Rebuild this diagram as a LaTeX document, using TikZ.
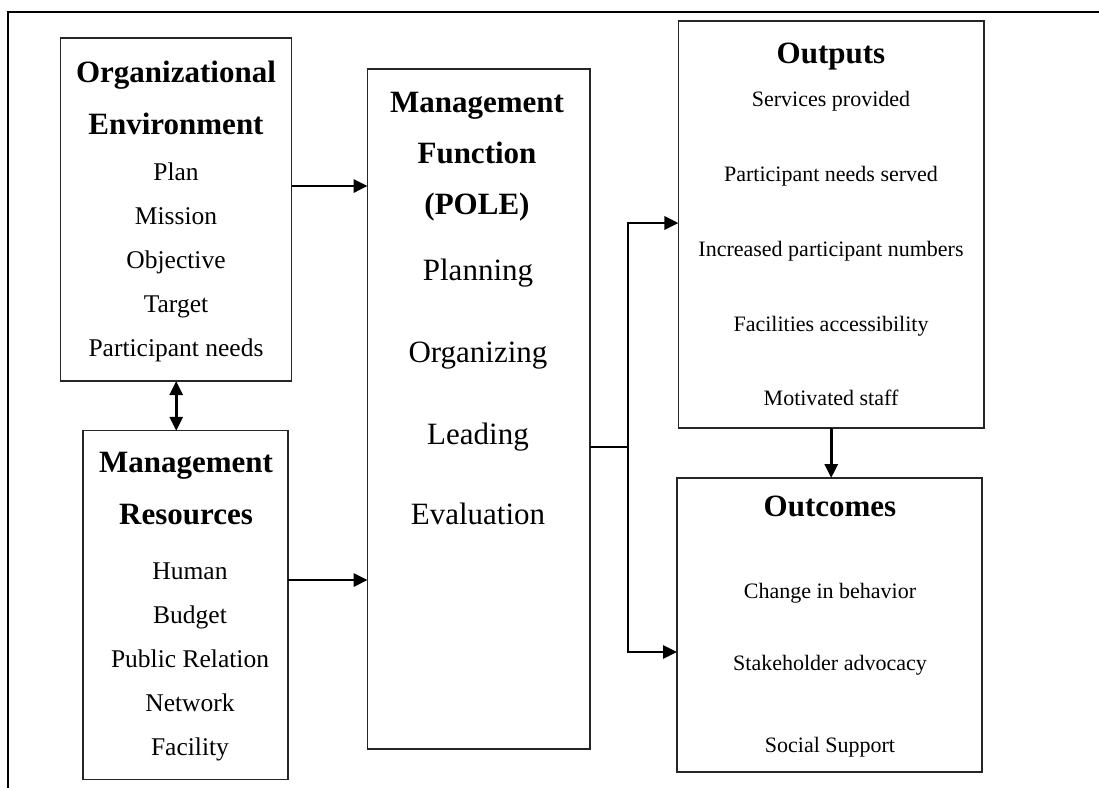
\documentclass[tikz,border=0pt]{standalone}
\usepackage{fontspec}
\setmainfont{Liberation Serif}
\usetikzlibrary{arrows.meta}
\begin{document}
\begin{tikzpicture}[x=1pt,y=-1pt,
 box/.style={draw=black!85,line width=1.3pt,inner sep=0pt,outer sep=0pt},
 ttl/.style={font=\fontsize{31}{31}\selectfont\bfseries,anchor=base,inner sep=0pt},
 itemL/.style={font=\fontsize{25.5}{25.5}\selectfont,anchor=base,inner sep=0pt},
 itemM/.style={font=\fontsize{31}{31}\selectfont,anchor=base,inner sep=0pt},
 itemR/.style={font=\fontsize{22}{22}\selectfont,anchor=base,inner sep=0pt},
 conn/.style={line width=2.8pt,black},
 tip/.tip={Triangle[length=14pt,width=13pt]},
 arr/.style={conn,-tip},
]
\useasboundingbox (0,0) rectangle (1099,788);
\draw[line width=2pt] (8,788) -- (8,12) -- (1099,12);

% boxes
\node[box,minimum width=231pt,minimum height=343pt] (oe) at (176.2,209.5) {};
\node[box,minimum width=205pt,minimum height=349pt] (mr) at (185.5,605.3) {};
\node[box,minimum width=222.3pt,minimum height=680pt] (mf) at (478.8,409) {};
\node[box,minimum width=305.5pt,minimum height=407pt] (op) at (831.2,224.5) {};
\node[box,minimum width=305pt,minimum height=294pt] (oc) at (829.5,625) {};

% Organizational Environment
\node[ttl] (oe1) at (176,82) {Organizational};
\node[ttl] (oe2) at (176,134) {Environment};
\node[itemL] (oe3) at (176,180) {Plan};
\node[itemL] (oe4) at (176,224) {Mission};
\node[itemL] (oe5) at (176,268) {Objective};
\node[itemL] (oe6) at (176,312) {Target};
\node[itemL] (oe7) at (176,356) {Participant needs};

% Management Resources
\node[ttl] (mr1) at (186,472) {Management};
\node[ttl] (mr2) at (186,524) {Resources};
\node[itemL] (mr3) at (190,579) {Human};
\node[itemL] (mr4) at (190,623) {Budget};
\node[itemL] (mr5) at (190,667) {Public Relation};
\node[itemL] (mr6) at (190,711) {Network};
\node[itemL] (mr7) at (190,755) {Facility};

% Management Function
\node[ttl] (mf1) at (477,112) {Management};
\node[ttl] (mf2) at (477,163) {Function};
\node[ttl] (mf3) at (477,214) {(POLE)};
\node[itemM] (mf4) at (478,280) {Planning};
\node[itemM] (mf5) at (478,362) {Organizing};
\node[itemM] (mf6) at (478,444) {Leading};
\node[itemM] (mf7) at (478,524) {Evaluation};

% Outputs
\node[ttl] (op1) at (831,63) {Outputs};
\node[itemR] (op2) at (831,106) {Services provided};
\node[itemR] (op3) at (831,181) {Participant needs served};
\node[itemR] (op4) at (831,256) {Increased participant numbers};
\node[itemR] (op5) at (831,331) {Facilities accessibility};
\node[itemR] (op6) at (831,405) {Motivated staff};

% Outcomes
\node[ttl] (oc1) at (830,516) {Outcomes};
\node[itemR] (oc2) at (830,598) {Change in behavior};
\node[itemR] (oc3) at (830,670) {Stakeholder advocacy};
\node[itemR] (oc4) at (830,752) {Social Support};

% connectors
\draw[conn,tip-tip] (oe.south) -- (oe.south |- mr.north);
\draw[arr] (oe.east |- 0,186) -- (mf.west |- 0,186);
\draw[arr] (mr.east |- 0,580) -- (mf.west |- 0,580);
\coordinate (j) at (628,447);
\draw[conn] (mf.east |- j) -- (j);
\draw[arr] (j) |- (op.west |- 0,223);
\draw[arr] (j) |- (oc.west |- 0,652);
\draw[arr] (op.south) -- (op.south |- oc.north);
\end{tikzpicture}
\end{document}
